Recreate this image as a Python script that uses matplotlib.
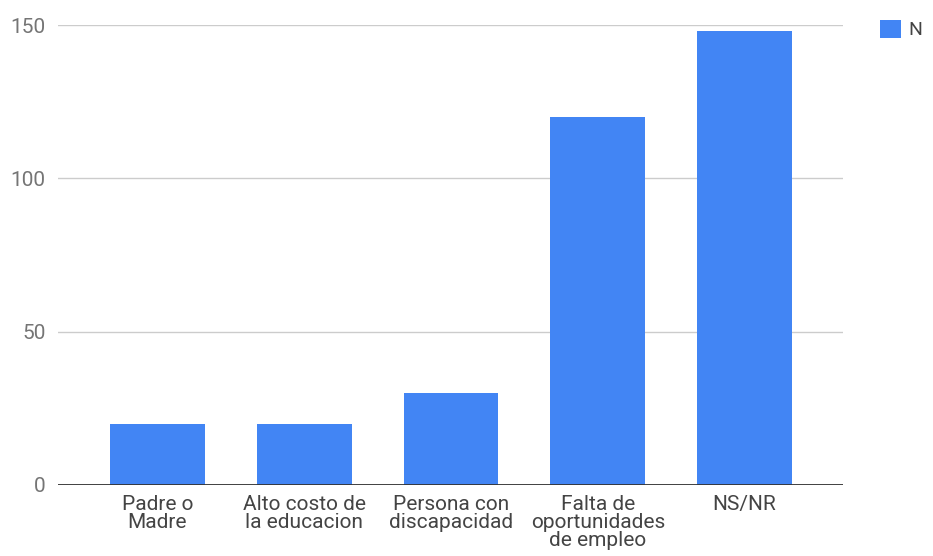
import matplotlib.pyplot as plt

plt.rcParams["font.family"] = ["Roboto", "DejaVu Sans"]

categories = [
    "Padre o\nMadre",
    "Alto costo de\nla educacion",
    "Persona con\ndiscapacidad",
    "Falta de\noportunidades\nde empleo",
    "NS/NR",
]
values = [20, 20, 30, 120, 148]
series_name = "N"
yticks = [0, 50, 100, 150]

fig = plt.figure(figsize=(9.33, 5.56), dpi=100)
ax = fig.add_axes([0.0622, 0.1277, 0.8413, 0.8273])

x = range(len(categories))
ax.bar(x, values, width=0.646, color="#4285F4", label=series_name, zorder=3)

ax.set_xlim(-0.677, len(categories) - 1 + 0.67)
ax.set_ylim(0, 150)
ax.set_yticks(yticks)
ax.set_xticks(list(x))
ax.set_xticklabels(categories, fontsize=15, color="#444444", linespacing=0.95)
ax.tick_params(axis="y", length=0, pad=9, labelsize=15, labelcolor="#757575")
ax.tick_params(axis="x", length=0, pad=7)

ax.grid(axis="y", color="#cccccc", linewidth=1, zorder=0)
ax.axhline(0, color="#333333", linewidth=1.3, zorder=4)
for s in ax.spines.values():
    s.set_visible(False)

ax.legend(
    loc="upper left",
    bbox_to_anchor=(1.025, 1.05),
    frameon=False,
    fontsize=14,
    handlelength=1.05,
    handleheight=1.05,
    handletextpad=0.4,
    labelcolor="#444444",
)

plt.savefig("out.png", dpi=100)
